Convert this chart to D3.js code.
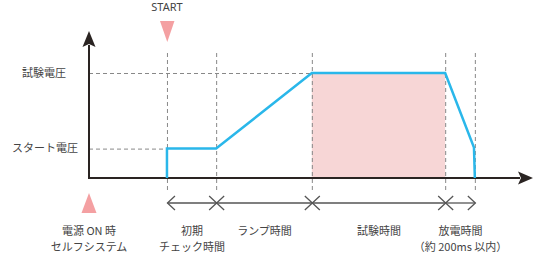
<!DOCTYPE html>
<html>
<head>
<meta charset="utf-8">
<script src="https://cdn.jsdelivr.net/npm/d3@7"></script>
<style>
  body { margin: 0; background: #fff; }
  text { font-family: "Noto Sans CJK JP", "Noto Sans", sans-serif; font-size: 11px; fill: #444; }
  text.start { font-family: "Noto Sans", sans-serif; }
</style>
</head>
<body>
<div id="chart"></div>
<script>
// time in arbitrary units (0..100), voltage relative to test voltage
const phaseBounds = [17.6, 28.7, 50.3, 80.4, 87.1];
const levels = [
  { name: "試験電圧", v: 1.0 },
  { name: "スタート電圧", v: 0.28 },
];
const waveform = [
  { t: 17.6, v: 0 },
  { t: 17.6, v: 0.28 },
  { t: 28.7, v: 0.28 },
  { t: 50.3, v: 1.0 },
  { t: 80.4, v: 1.0 },
  { t: 86.9, v: 0.29 },
  { t: 87.1, v: 0 },
];
const phaseLabels = [
  { lines: ["初期", "チェック時間"], from: 0, to: 1 },
  { lines: ["ランプ時間"], from: 1, to: 2 },
  { lines: ["試験時間"], from: 2, to: 3 },
  { lines: ["放電時間", "（約 200ms 以内）"], from: 3, to: 4 },
];
const testWindow = [2, 3]; // index into phaseBounds

const width = 534;
const height = 257;

const svg = d3.select("#chart").append("svg")
  .attr("width", width)
  .attr("height", height);

const x = d3.scaleLinear().domain([0, 100]).range([89, 532]);
const y = d3.scaleLinear().domain([0, 1.4]).range([178, 31]);

// pink test-time area
svg.append("rect")
  .attr("x", x(phaseBounds[testWindow[0]]))
  .attr("y", y(1.0))
  .attr("width", x(phaseBounds[testWindow[1]]) - x(phaseBounds[testWindow[0]]))
  .attr("height", y(0) - y(1.0))
  .attr("fill", "#f7d6d6");

// dashed guides
const dash = svg.append("g")
  .attr("stroke", "#888")
  .attr("stroke-width", 1)
  .attr("stroke-dasharray", "4,3");

dash.selectAll("line.v")
  .data(phaseBounds)
  .join("line")
  .attr("class", "v")
  .attr("x1", (d) => x(d) + 0.5)
  .attr("x2", (d) => x(d) + 0.5)
  .attr("y1", 53)
  .attr("y2", 192);

dash.append("line")
  .attr("x1", x(0)).attr("x2", x(phaseBounds[2]))
  .attr("y1", y(1.0) + 0.5).attr("y2", y(1.0) + 0.5);
dash.append("line")
  .attr("x1", x(0)).attr("x2", x(phaseBounds[0]))
  .attr("y1", y(0.28) + 0.5).attr("y2", y(0.28) + 0.5);

// axes
const axisColor = "#2a2422";
svg.append("line")
  .attr("x1", x(0)).attr("x2", 520)
  .attr("y1", y(0)).attr("y2", y(0))
  .attr("stroke", axisColor).attr("stroke-width", 2);
svg.append("path")
  .attr("d", `M533,${y(0)} L518,${y(0) - 6.5} L521,${y(0)} L518,${y(0) + 6.5} Z`)
  .attr("fill", axisColor);

svg.append("line")
  .attr("x1", x(0)).attr("x2", x(0))
  .attr("y1", y(0) + 1).attr("y2", 45)
  .attr("stroke", axisColor).attr("stroke-width", 2);
svg.append("path")
  .attr("d", `M${x(0)},31 L${x(0) - 6.5},47 L${x(0)},44 L${x(0) + 6.5},47 Z`)
  .attr("fill", axisColor);

// waveform
svg.append("path")
  .datum(waveform)
  .attr("fill", "none")
  .attr("stroke", "#2ab7ea")
  .attr("stroke-width", 2.5)
  .attr("stroke-linejoin", "miter")
  .attr("d", d3.line().x((d) => x(d.t)).y((d) => y(d.v)));

// level labels
svg.selectAll("text.level")
  .data(levels)
  .join("text")
  .attr("class", "level")
  .attr("x", (d) => (d.v === 1 ? 66 : 78))
  .attr("y", (d) => y(d.v))
  .attr("dy", "0.35em")
  .attr("text-anchor", "end")
  .text((d) => d.name);

// START marker
const triColor = "#f4a0a2";
const sx = x(phaseBounds[0]);
svg.append("text")
  .attr("class", "start")
  .attr("x", sx).attr("y", 11)
  .attr("text-anchor", "middle")
  .text("START");
svg.append("path")
  .attr("d", `M${sx - 7},21 L${sx + 7.5},21 L${sx + 0.3},42 Z`)
  .attr("fill", triColor);

// power-on marker
const px = x(0);
svg.append("path")
  .attr("d", `M${px - 7.5},213 L${px + 7.5},213 L${px},193 Z`)
  .attr("fill", triColor);
svg.selectAll("text.power")
  .data(["電源 ON 時", "セルフシステム"])
  .join("text")
  .attr("class", "power")
  .attr("x", px)
  .attr("y", (d, i) => 231 + i * 16)
  .attr("dy", "0.35em")
  .attr("text-anchor", "middle")
  .text((d) => d);

// span arrows
const arrowY = 203;
const arrows = svg.append("g")
  .attr("stroke", "#555")
  .attr("stroke-width", 1.3)
  .attr("fill", "none");
phaseLabels.forEach((p) => {
  const x0 = x(phaseBounds[p.from]) + 0.5;
  const x1 = x(phaseBounds[p.to]) + 0.5;
  arrows.append("line")
    .attr("x1", x0).attr("x2", x1)
    .attr("y1", arrowY).attr("y2", arrowY);
  arrows.append("path")
    .attr("d", `M${x0 + 7.5},${arrowY - 7} L${x0},${arrowY} L${x0 + 7.5},${arrowY + 7}`);
  arrows.append("path")
    .attr("d", `M${x1 - 7.5},${arrowY - 7} L${x1},${arrowY} L${x1 - 7.5},${arrowY + 7}`);

  svg.selectAll(null)
    .data(p.lines)
    .join("text")
    .attr("x", (x0 + x1) / 2)
    .attr("y", (d, i) => 231 + i * 16)
    .attr("dy", "0.35em")
    .attr("text-anchor", "middle")
    .text((d) => d);
});
</script>
</body>
</html>
